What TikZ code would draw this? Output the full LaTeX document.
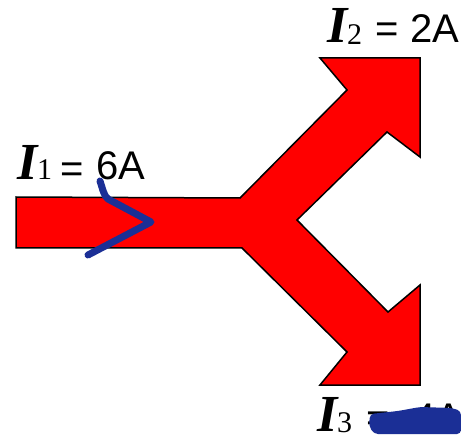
\documentclass[tikz,border=0pt]{standalone}
\usepackage{fontspec}
\setmainfont{Liberation Serif}
\newfontfamily\arialf{Liberation Sans}
\definecolor{penblue}{RGB}{27,47,150}
\begin{document}
\begin{tikzpicture}[x=1pt,y=-1pt,
  wire/.style={fill=red, draw=black, line width=1.5pt, line join=miter},
  ivar/.style={inner sep=0, anchor=base west, font=\fontsize{52}{52}\selectfont\bfseries\itshape},
  isub/.style={inner sep=0, anchor=base west, font=\fontsize{30}{30}\selectfont},
  ival/.style={inner sep=0, anchor=base west, font=\arialf\fontsize{40}{40}\selectfont},
  pen/.style={draw=penblue, line width=7pt, line cap=round, line join=round}]
\useasboundingbox (0,0) rectangle (461,441);
\fill[white] (0,0) rectangle (461,441);
% conductor
\draw[wire] (16,197) -- (240,198) -- (347,90) -- (320,58) -- (420,58) -- (420,157)
  -- (387,132) -- (297,220) -- (388,312) -- (420,285) -- (420,385) -- (320,385)
  -- (347,352) -- (242,248) -- (16,248) -- cycle;
% labels
\node[ivar] (i1) at (17,180) {I};
\node[isub] (s1) at (37,180) {1};
\node[ival] (e1) at (60,183) {=};
\node[ival] (v1) at (96,180) {6A};
\node[ivar] (i2) at (327,43) {I};
\node[isub] (s2) at (347,45) {2};
\node[ival] (e2) at (375,43) {=};
\node[ival] (v2) at (410,43) {2A};
\node[ivar] (i3) at (317,431) {I};
\node[isub] (s3) at (337,432) {3};
\node[ival] (e3) at (366,431) {=};
\node[ival] (v3) at (413,431) {4A};
% pen marks
\draw[pen] (100,181) .. controls (103,190) and (104,196) .. (108,199) -- (151,222) -- (88,255);
\fill[penblue, rounded corners=4pt] (370,414) -- (398,411) -- (420,407) -- (452,408) -- (461,411)
  -- (461,434) -- (374,434) -- (369,426) -- cycle;
\end{tikzpicture}
\end{document}
